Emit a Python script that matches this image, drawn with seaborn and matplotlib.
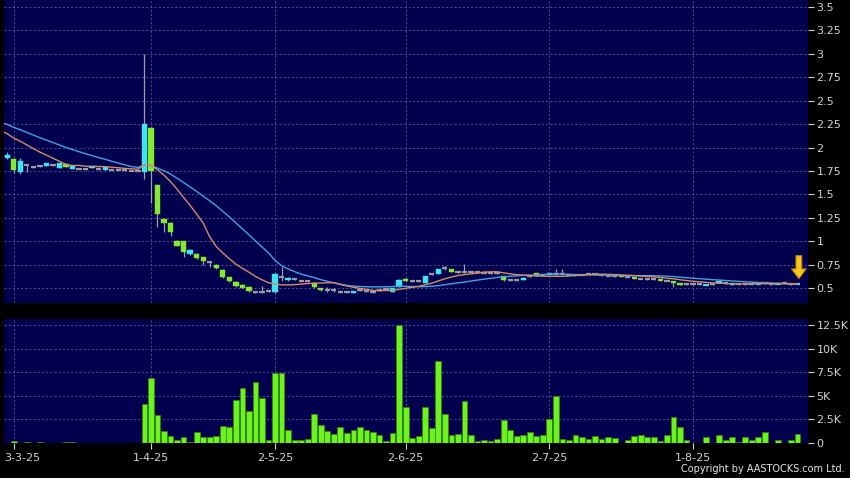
import numpy as np
import pandas as pd
import matplotlib
matplotlib.use("Agg")
import matplotlib.pyplot as plt
import seaborn as sns

# ---------------- data ----------------
# closes before the first visible session (only feed the moving averages)
prior_close = [2.40, 2.38, 2.36, 2.39, 2.35, 2.37, 2.34, 2.33, 2.36, 2.32,
               2.25, 2.22, 2.20, 2.21, 2.18, 2.17, 2.16, 2.15, 2.14, 2.12]

open_ = [1.89, 1.88, 1.74, 1.81, 1.79, 1.80, 1.80, 1.81, 1.78, 1.82,
         1.77, 1.77, 1.77, 1.78, 1.77, 1.76, 1.76, 1.76, 1.76, 1.75,
         1.75, 1.74, 2.21, 1.60, 1.24, 1.19, 1.00, 1.00, 0.86, 0.86,
         0.83, 0.78, 0.75, 0.69, 0.62, 0.56, 0.53, 0.51, 0.46, 0.46,
         0.47, 0.46, 0.62, 0.59, 0.60, 0.57, 0.57, 0.55, 0.50, 0.48,
         0.48, 0.46, 0.46, 0.45, 0.48, 0.47, 0.46, 0.48, 0.49, 0.46,
         0.51, 0.60, 0.57, 0.57, 0.55, 0.65, 0.65, 0.71, 0.70, 0.67,
         0.67, 0.67, 0.67, 0.66, 0.66, 0.66, 0.63, 0.59, 0.59, 0.59,
         0.63, 0.66, 0.64, 0.64, 0.65, 0.65, 0.64, 0.64, 0.64, 0.65,
         0.65, 0.64, 0.63, 0.63, 0.63, 0.62, 0.61, 0.60, 0.60, 0.60,
         0.59, 0.58, 0.57, 0.55, 0.54, 0.54, 0.54, 0.53, 0.54, 0.55,
         0.55, 0.53, 0.54, 0.54, 0.54, 0.54, 0.55, 0.54, 0.54, 0.55,
         0.54, 0.54]

high = [1.95, 1.89, 1.89, 1.82, 1.80, 1.81, 1.83, 1.82, 1.83, 1.82,
        1.80, 1.78, 1.78, 1.80, 1.77, 1.79, 1.76, 1.76, 1.76, 1.75,
        1.75, 3.00, 2.22, 1.61, 1.25, 1.20, 1.01, 1.00, 0.92, 0.87,
        0.83, 0.79, 0.76, 0.70, 0.62, 0.57, 0.54, 0.52, 0.47, 0.52,
        0.48, 0.66, 0.72, 0.62, 0.61, 0.58, 0.58, 0.55, 0.50, 0.51,
        0.50, 0.47, 0.47, 0.47, 0.49, 0.48, 0.47, 0.49, 0.50, 0.50,
        0.60, 0.61, 0.58, 0.58, 0.63, 0.66, 0.70, 0.74, 0.70, 0.68,
        0.76, 0.68, 0.67, 0.67, 0.67, 0.66, 0.63, 0.60, 0.60, 0.62,
        0.64, 0.66, 0.65, 0.66, 0.70, 0.70, 0.65, 0.65, 0.65, 0.66,
        0.66, 0.64, 0.64, 0.63, 0.63, 0.63, 0.61, 0.61, 0.61, 0.60,
        0.59, 0.59, 0.58, 0.55, 0.54, 0.54, 0.55, 0.54, 0.54, 0.57,
        0.56, 0.55, 0.55, 0.55, 0.55, 0.55, 0.55, 0.55, 0.55, 0.55,
        0.55, 0.55]

low = [1.88, 1.73, 1.72, 1.74, 1.78, 1.79, 1.80, 1.80, 1.78, 1.79,
       1.77, 1.77, 1.76, 1.78, 1.76, 1.76, 1.76, 1.76, 1.75, 1.75,
       1.75, 1.66, 1.41, 1.15, 1.10, 1.05, 0.95, 0.83, 0.85, 0.81,
       0.75, 0.72, 0.70, 0.61, 0.56, 0.51, 0.50, 0.46, 0.45, 0.45,
       0.46, 0.45, 0.58, 0.58, 0.59, 0.56, 0.56, 0.50, 0.47, 0.46,
       0.46, 0.45, 0.45, 0.45, 0.47, 0.46, 0.45, 0.47, 0.48, 0.46,
       0.51, 0.57, 0.56, 0.56, 0.55, 0.64, 0.65, 0.69, 0.67, 0.66,
       0.66, 0.66, 0.66, 0.66, 0.65, 0.65, 0.58, 0.58, 0.58, 0.59,
       0.62, 0.63, 0.63, 0.64, 0.64, 0.64, 0.64, 0.63, 0.64, 0.64,
       0.64, 0.63, 0.63, 0.62, 0.62, 0.62, 0.60, 0.60, 0.59, 0.59,
       0.58, 0.57, 0.51, 0.53, 0.53, 0.53, 0.53, 0.53, 0.53, 0.55,
       0.54, 0.53, 0.53, 0.53, 0.54, 0.53, 0.54, 0.53, 0.54, 0.54,
       0.53, 0.54]

close = [1.92, 1.76, 1.86, 1.81, 1.79, 1.80, 1.83, 1.81, 1.83, 1.79,
         1.80, 1.77, 1.77, 1.80, 1.77, 1.79, 1.76, 1.76, 1.76, 1.75,
         1.75, 2.25, 1.75, 1.29, 1.19, 1.10, 0.95, 0.88, 0.91, 0.82,
         0.79, 0.78, 0.71, 0.62, 0.57, 0.52, 0.50, 0.47, 0.46, 0.46,
         0.47, 0.65, 0.62, 0.61, 0.60, 0.57, 0.57, 0.51, 0.48, 0.48,
         0.48, 0.46, 0.46, 0.47, 0.48, 0.47, 0.46, 0.48, 0.49, 0.50,
         0.59, 0.58, 0.57, 0.57, 0.63, 0.65, 0.70, 0.71, 0.67, 0.67,
         0.67, 0.67, 0.67, 0.66, 0.66, 0.66, 0.59, 0.59, 0.59, 0.61,
         0.63, 0.63, 0.64, 0.66, 0.65, 0.65, 0.64, 0.64, 0.65, 0.65,
         0.65, 0.64, 0.63, 0.63, 0.62, 0.62, 0.60, 0.60, 0.60, 0.60,
         0.58, 0.58, 0.55, 0.53, 0.54, 0.54, 0.54, 0.54, 0.54, 0.57,
         0.55, 0.55, 0.54, 0.54, 0.55, 0.54, 0.55, 0.54, 0.55, 0.55,
         0.54, 0.55]

# volume in thousands of shares
volume_k = [0.05, 0.18, 0.04, 0.10, 0.03, 0.07, 0.02, 0.02, 0.02, 0.07,
            0.07, 0.01, 0.01, 0.02, 0.01, 0.01, 0.0, 0.0, 0.01, 0.0,
            0.01, 4.15, 6.87, 3.00, 1.30, 0.74, 0.32, 0.63, 0.10, 1.20,
            0.60, 0.67, 0.70, 1.83, 1.69, 4.58, 5.81, 3.35, 6.48, 4.75,
            0.35, 7.46, 7.46, 1.41, 0.32, 0.35, 0.46, 3.06, 1.94, 1.23,
            0.92, 1.65, 1.09, 1.41, 1.73, 1.41, 1.20, 0.88, 0.25, 1.06,
            12.5, 3.80, 0.56, 0.77, 3.77, 1.58, 8.70, 3.06, 0.88, 0.99,
            4.40, 0.88, 0.20, 0.35, 0.25, 0.42, 2.46, 1.41, 0.70, 0.88,
            1.20, 0.70, 0.85, 2.50, 4.93, 0.42, 0.35, 0.88, 0.67, 0.42,
            0.74, 0.42, 0.67, 0.56, 0.05, 0.35, 0.74, 0.88, 0.60, 0.60,
            0.25, 0.88, 2.75, 1.70, 0.35, 0.05, 0.05, 0.67, 0.03, 0.88,
            0.35, 0.67, 0.10, 0.67, 0.35, 0.67, 1.13, 0.02, 0.32, 0.02,
            0.35, 0.95]

date_labels = ["3-3-25", "1-4-25", "2-5-25", "2-6-25", "2-7-25", "1-8-25"]
date_idx = [1, 22, 41, 61, 83, 105]

price_ticks = [0.5, 0.75, 1, 1.25, 1.5, 1.75, 2, 2.25, 2.5, 2.75, 3, 3.25, 3.5]
vol_ticks = [0, 2.5, 5, 7.5, 10, 12.5]
vol_tick_labels = ["0", "2.5K", "5K", "7.5K", "10K", "12.5K"]

# ---------------- styling ----------------
BG = "#000000"
PANEL = "#00004e"
GRID = "#5a5a92"
TXT = "#d2d2d2"
UP = "#3ee4f2"
DOWN = "#84ea2c"
FLAT = "#9c9c9c"
WICK = "#a0a0a0"
VOL = "#6cf21c"
VOL_EDGE = "#2f8a06"
MA_SHORT = "#d98a66"
MA_LONG = "#3fa4e4"

plt.rcParams["font.family"] = ["DejaVu Sans"]

fig = plt.figure(figsize=(8.5, 4.78), dpi=100, facecolor=BG)
ax = fig.add_axes([4 / 850, 1 - 303 / 478, 804 / 850, 303 / 478])
axv = fig.add_axes([4 / 850, 35 / 478, 804 / 850, 124 / 478])

n = len(close)
idx = np.arange(n)
o = np.array(open_)
c = np.array(close)
h = np.array(high)
l = np.array(low)

# ---------------- price panel ----------------
ax.set_facecolor(PANEL)
# wicks
ax.vlines(idx, np.minimum(l, np.minimum(o, c)), np.maximum(h, np.maximum(o, c)),
          color=WICK, linewidth=0.9, zorder=2)
# bodies
for i in range(n):
    if c[i] > o[i]:
        col = UP
    elif c[i] < o[i]:
        col = DOWN
    else:
        col = FLAT
    bottom = min(o[i], c[i])
    height = abs(c[i] - o[i])
    if height < 0.012:
        ax.hlines(o[i], i - 0.4, i + 0.4, color=col, linewidth=1.6, zorder=3)
    else:
        ax.bar(i, height, bottom=bottom, width=0.82, color=col,
               edgecolor=col, linewidth=0.3, zorder=3)

# moving averages (10- and 20-session simple averages of the closes)
all_close = pd.Series(prior_close + close)
x_all = np.arange(-len(prior_close), n)
ma10 = all_close.rolling(10).mean()
ma20 = all_close.rolling(20).mean()
m10 = ma10.notna().values
m20 = ma20.notna().values
sns.lineplot(x=x_all[m20], y=ma20.values[m20], ax=ax, color=MA_LONG,
             linewidth=1.0, zorder=4, estimator=None, sort=False)
sns.lineplot(x=x_all[m10], y=ma10.values[m10], ax=ax, color=MA_SHORT,
             linewidth=1.0, zorder=4, estimator=None, sort=False)

# last-price arrow marker
ax.annotate("", xy=(121.2, 0.60), xytext=(121.2, 0.845),
            arrowprops=dict(arrowstyle="simple,head_length=0.7,head_width=1.05,tail_width=0.42",
                            fc="#f6c81e", ec="#b98400", lw=0.8,
                            mutation_scale=10, shrinkA=0, shrinkB=0),
            zorder=6)

ax.set_xlim(-0.5, 122.6)
ax.set_ylim(0.34, 3.575)
ax.yaxis.tick_right()
ax.set_yticks(price_ticks)
ax.set_yticklabels([f"{t:g}" for t in price_ticks])
ax.set_xticks(date_idx)
ax.set_xticklabels([])
ax.tick_params(axis="x", length=0)
ax.tick_params(axis="y", colors=TXT, labelsize=8, length=4, width=0.8, pad=2)
ax.grid(True, color=GRID, linestyle=(0, (2.5, 2.5)), linewidth=0.6)
ax.set_axisbelow(True)
ax.set_xlabel("")
ax.set_ylabel("")
for s in ax.spines.values():
    s.set_visible(False)

# ---------------- volume panel ----------------
axv.set_facecolor(PANEL)
vol_df = pd.DataFrame({"i": idx, "vol": volume_k})
sns.barplot(data=vol_df, x="i", y="vol", ax=axv, native_scale=True,
            color=VOL, saturation=1, width=0.88, edgecolor=VOL_EDGE,
            linewidth=0.5, errorbar=None, zorder=3)
axv.set_xlim(-0.5, 122.6)
axv.set_ylim(0, 13.14)
axv.yaxis.tick_right()
axv.set_yticks(vol_ticks)
axv.set_yticklabels(vol_tick_labels)
axv.set_xticks(date_idx)
axv.set_xticklabels(date_labels)
axv.tick_params(axis="y", colors=TXT, labelsize=8, length=4, width=0.8, pad=2)
axv.tick_params(axis="x", colors=TXT, labelsize=8, length=4, width=0.8, pad=3)
# keep the first date label inside the figure
first_lbl = axv.get_xticklabels()[0]
first_lbl.set_horizontalalignment("left")
first_lbl.set_x(date_idx[0])
import matplotlib.transforms as mtransforms
first_lbl.set_transform(first_lbl.get_transform() +
                        mtransforms.ScaledTranslation(-10 / 100, 0, fig.dpi_scale_trans))
axv.grid(True, color=GRID, linestyle=(0, (2.5, 2.5)), linewidth=0.6)
axv.set_axisbelow(True)
axv.set_xlabel("")
axv.set_ylabel("")
for s in axv.spines.values():
    s.set_visible(False)

fig.text(0.994, 0.008, "Copyright by AASTOCKS.com Ltd.", ha="right", va="bottom",
         color="#e6e6e6", fontsize=7)

fig.savefig("out.png", dpi=100, facecolor=BG)
